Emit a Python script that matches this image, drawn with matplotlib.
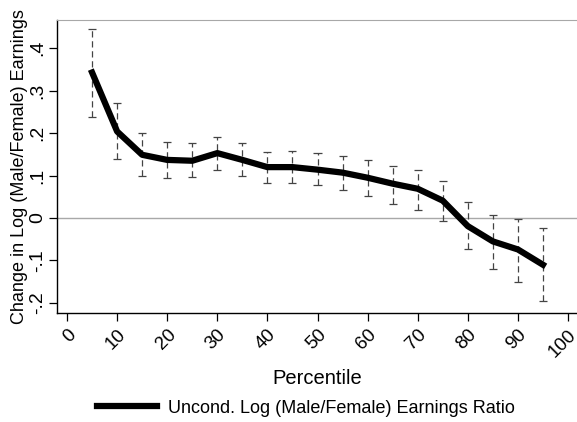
import numpy as np
import matplotlib
matplotlib.use("Agg")
import matplotlib.pyplot as plt

plt.rcParams["font.family"] = ["Liberation Sans", "DejaVu Sans"]

# percentile points and estimates
percentiles = [5, 10, 15, 20, 25, 30, 35, 40, 45, 50, 55, 60, 65, 70, 75, 80, 85, 90, 95]
estimate = [0.343, 0.204, 0.149, 0.137, 0.135, 0.153, 0.137, 0.120, 0.120, 0.114,
            0.107, 0.095, 0.081, 0.069, 0.041, -0.019, -0.055, -0.074, -0.110]
ci_upper = [0.445, 0.270, 0.200, 0.180, 0.176, 0.190, 0.176, 0.156, 0.159, 0.154,
            0.146, 0.136, 0.122, 0.113, 0.088, 0.037, 0.007, -0.002, -0.023]
ci_lower = [0.239, 0.139, 0.100, 0.095, 0.097, 0.113, 0.100, 0.082, 0.083, 0.077,
            0.067, 0.053, 0.033, 0.020, -0.008, -0.074, -0.120, -0.150, -0.196]

x_ticks = list(range(0, 101, 10))
y_ticks = [-0.2, -0.1, 0, 0.1, 0.2, 0.3, 0.4]
y_tick_labels = ["-.2", "-.1", "0", ".1", ".2", ".3", ".4"]

fig = plt.figure(figsize=(5.77, 4.22), dpi=100)
ax = fig.add_axes([0.0988, 0.258, 0.9012, 0.695])

ax.axhline(0, color="#a8a8a8", lw=1.0, zorder=1)

# dashed confidence interval bars with caps
ax.vlines(percentiles, ci_lower, ci_upper, colors="#444444", linestyles=(0, (5, 3)), lw=0.9, zorder=2)
ax.hlines(ci_upper, np.array(percentiles) - 0.8, np.array(percentiles) + 0.8, colors="#444444", lw=0.9, zorder=2)
ax.hlines(ci_lower, np.array(percentiles) - 0.8, np.array(percentiles) + 0.8, colors="#444444", lw=0.9, zorder=2)

ax.plot(percentiles, estimate, color="black", lw=4.5, solid_joinstyle="round",
        label="Uncond. Log (Male/Female) Earnings Ratio", zorder=3)

ax.set_xlim(-2, 101.8)
ax.set_ylim(-0.224, 0.467)

ax.set_xticks(x_ticks)
ax.set_xticklabels([str(t) for t in x_ticks], rotation=45, ha="right", va="top",
                   rotation_mode="anchor", fontsize=13.5)
ax.set_yticks(y_ticks)
ax.set_yticklabels(y_tick_labels, rotation=90, va="center", fontsize=14)

ax.tick_params(axis="both", direction="out", length=6, width=0.9, color="black")
ax.tick_params(axis="y", pad=2)

ax.spines["right"].set_visible(False)
ax.spines["top"].set_color("#a8a8a8")
ax.spines["left"].set_linewidth(1.0)
ax.spines["bottom"].set_linewidth(1.0)

ax.set_xlabel("Percentile", fontsize=14.5, labelpad=6)
ax.set_ylabel("Change in Log (Male/Female) Earnings", fontsize=13, labelpad=1)

fig.legend(loc="center", bbox_to_anchor=(0.53, 0.033), frameon=False, fontsize=13,
           handlelength=3.3, handletextpad=0.6)

fig.savefig("out.png", dpi=100)
plt.close(fig)
